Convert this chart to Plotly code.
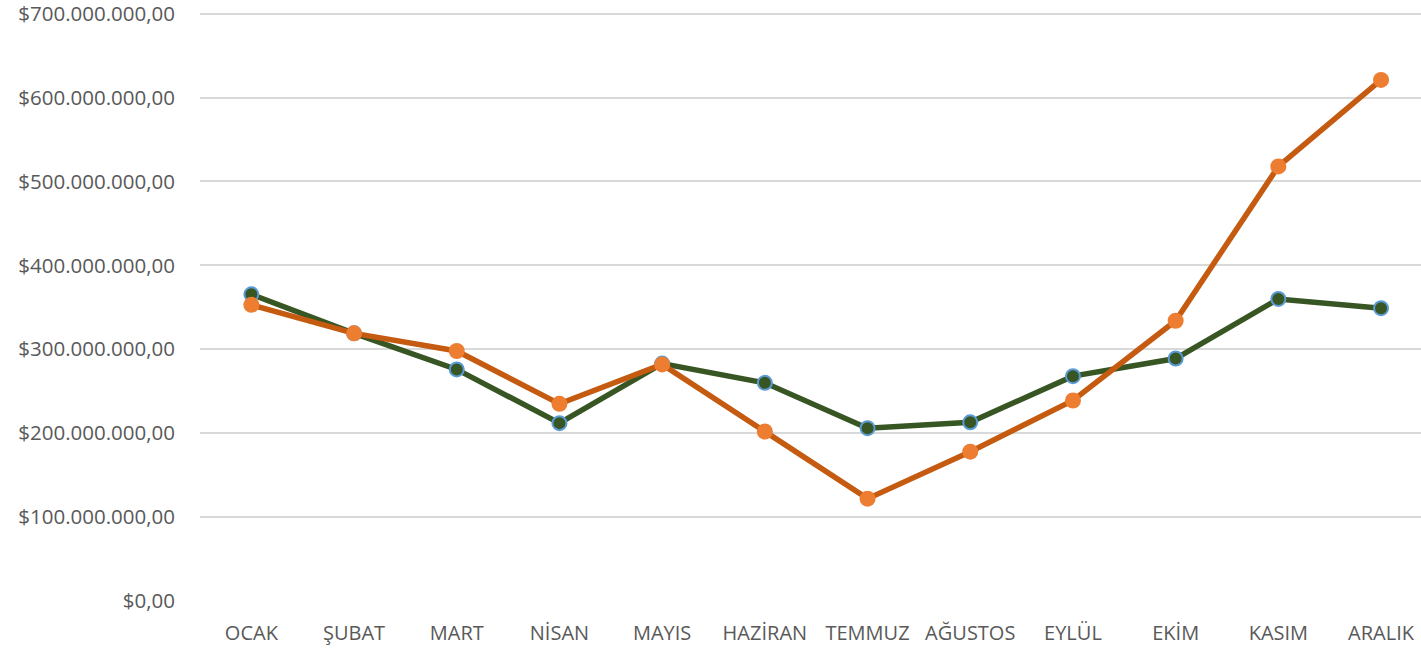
import plotly.graph_objects as go

months = ["OCAK", "ŞUBAT", "MART", "NİSAN", "MAYIS", "HAZİRAN", "TEMMUZ",
          "AĞUSTOS", "EYLÜL", "EKİM", "KASIM", "ARALIK"]
green_vals = [365.5e6, 319e6, 276e6, 212e6, 283e6, 260e6, 206e6, 213e6,
              268e6, 289e6, 360e6, 349e6]
orange_vals = [353e6, 319e6, 298e6, 235e6, 282e6, 202e6, 122e6, 178e6,
               239e6, 334e6, 518e6, 621e6]
y_ticks = [0, 100e6, 200e6, 300e6, 400e6, 500e6, 600e6, 700e6]
y_tick_text = ["$0,00", "$100.000.000,00", "$200.000.000,00", "$300.000.000,00",
               "$400.000.000,00", "$500.000.000,00", "$600.000.000,00", "$700.000.000,00"]

fig = go.Figure()
fig.add_trace(go.Scatter(
    x=months, y=green_vals, mode="lines+markers",
    line=dict(color="#375623", width=5.5),
    marker=dict(size=14, color="#375623", line=dict(color="#5b9bd5", width=2)),
    showlegend=False, cliponaxis=False, hoverinfo="skip"))
fig.add_trace(go.Scatter(
    x=months, y=orange_vals, mode="lines+markers",
    line=dict(color="#c55a11", width=5.5),
    marker=dict(size=16, color="#ed7d31", line=dict(width=0)),
    showlegend=False, cliponaxis=False, hoverinfo="skip"))

fig.update_layout(
    width=1421, height=652,
    margin=dict(l=200, r=0, t=12, b=51),
    paper_bgcolor="white", plot_bgcolor="white",
    font=dict(family="Open Sans, Noto Sans, sans-serif", size=20, color="#595959"),
    xaxis=dict(range=[-0.5, 11.389], showgrid=False, zeroline=False, showline=False,
               ticks="", tickfont=dict(size=20, color="#595959"), ticklabelstandoff=18,
               automargin=False),
    yaxis=dict(range=[0, 702e6], tickvals=y_ticks, ticktext=y_tick_text,
               showgrid=True, gridcolor="#d9d9d9", gridwidth=2, zeroline=False,
               showline=False, ticks="", ticklabelstandoff=24,
               ticklabeloverflow="allow", automargin=False,
               tickfont=dict(size=20.5, color="#595959")),
)
fig.write_html("out.html", config={"displayModeBar": False},
               post_script="document.body.style.margin='0';document.body.style.overflow='hidden';")
